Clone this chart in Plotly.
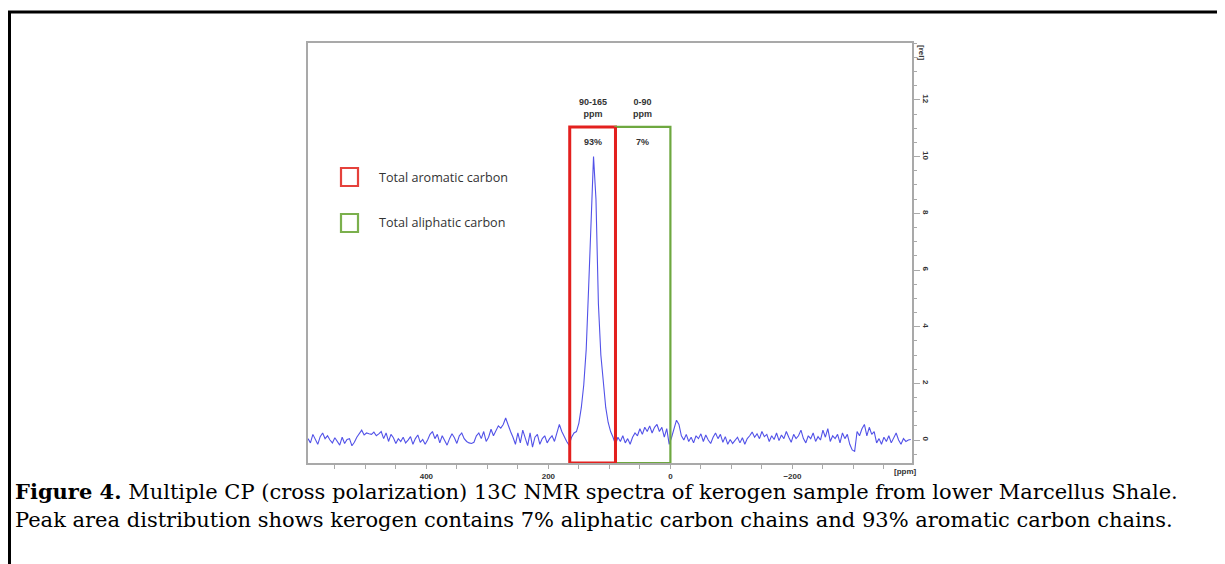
import numpy as np
import plotly.graph_objects as go

# ---------------- data ----------------
# chemical shift grid: 594 ppm down to -394 ppm, 4 ppm per sample
ppm_start = 594.0
ppm_step = -4.0

# intensity [rel], ppm 594 -> 158
baseline_left = [
    0.05, -0.10, 0.20, 0.02, -0.15, 0.12, 0.25, 0.05, 0.15, 0.00,
    -0.10, 0.08, -0.05, -0.18, 0.10, -0.12, 0.02, 0.05, -0.20, -0.08,
    0.10, 0.22, 0.35, 0.18, 0.25, 0.22, 0.20, 0.28, 0.15, 0.22,
    0.30, 0.05, 0.25, -0.05, 0.20, 0.08, -0.12, 0.05, -0.05, 0.10,
    -0.10, 0.00, 0.12, -0.15, 0.05, 0.18, -0.08, 0.02, -0.15, 0.00,
    0.20, 0.30, 0.05, 0.20, -0.10, 0.15, 0.00, -0.18, 0.05, 0.22,
    0.08, -0.12, 0.15, 0.25, 0.05, -0.05, -0.10, -0.12, -0.08, 0.15,
    0.25, 0.05, 0.30, -0.05, 0.10, 0.38, 0.15, 0.35, 0.50, 0.42,
    0.55, 0.78, 0.50, 0.30, 0.10, -0.15, 0.25, -0.10, 0.35, 0.05,
    -0.20, 0.25, -0.25, 0.10, 0.20, -0.15, 0.05, 0.15, -0.10, 0.05,
    0.15, -0.05, 0.30, 0.55, 0.30, 0.10, -0.05, -0.18, 0.10, 0.25,
]
# ppm 154 -> 86 (aromatic peak)
aromatic_peak = [
    0.30, 0.60, 1.15, 1.95, 3.20, 5.40, 8.10, 10.00, 8.50,
    4.80, 3.00, 1.95, 1.15, 0.62, 0.30, 0.10, -0.15, 0.10,
]
# ppm 82 -> -2 (aliphatic region)
aliphatic_region = [
    -0.05, 0.15, -0.10, 0.05, -0.15, 0.10, 0.25, 0.15, 0.40, 0.20, 0.45,
    0.30, 0.50, 0.25, 0.45, 0.55, 0.30, 0.45, 0.10, 0.40, -0.15, 0.10,
]
# ppm -6 -> -394
baseline_right = [
    0.45, 0.70, 0.55, 0.15, 0.00, 0.20, -0.05, 0.10, -0.10, 0.15,
    0.05, 0.22, -0.05, 0.18, 0.00, -0.12, 0.10, 0.25, 0.05, 0.20,
    -0.08, 0.12, -0.15, 0.02, -0.12, 0.00, 0.10, -0.10, 0.08, -0.15,
    0.05, 0.15, 0.28, 0.10, 0.22, 0.05, 0.30, 0.12, 0.20, -0.05,
    0.15, 0.02, 0.25, -0.02, 0.18, 0.05, 0.30, 0.10, -0.08, 0.20,
    0.05, 0.15, 0.35, 0.05, -0.10, 0.15, 0.05, 0.25, -0.05, 0.12,
    0.00, 0.35, 0.10, 0.40, -0.05, 0.15, 0.05, 0.20, -0.10, 0.25,
    0.05, 0.20, -0.15, -0.35, -0.40, 0.30, 0.15, 0.40, 0.55, 0.15,
    0.45, 0.20, 0.30, -0.10, 0.05, -0.15, 0.10, -0.05, 0.15, -0.10,
    0.05, 0.25, 0.00, -0.15, 0.05, -0.05, 0.00, 0.02,
]

# integration regions
region_labels = ["90-165<br>ppm", "0-90<br>ppm"]
region_bounds = [(165, 90), (90, 0)]
region_percent = ["93%", "7%"]
region_top = 11.05
legend_labels = ["Total aromatic carbon", "Total aliphatic carbon"]

x_tick_vals = [400, 200, 0, -200]
y_tick_vals = [0, 2, 4, 6, 8, 10, 12]

caption_1 = ("<b>Figure 4.</b> Multiple CP (cross polarization) 13C NMR spectra "
             "of kerogen sample from lower Marcellus Shale.")
caption_2 = ("Peak area distribution shows kerogen contains 7% aliphatic carbon "
             "chains and 93% aromatic carbon chains.")

# ---------------- build ----------------
intensity = np.array(baseline_left + aromatic_peak + aliphatic_region + baseline_right)
ppm = ppm_start + ppm_step * np.arange(len(intensity))

X_RANGE = [594, -396]
Y_RANGE = [-0.81, 14.01]

# the page body has an 8px margin: figure is drawn 8px right/down
OFF = 8
FW, FH = 1225 - OFF, 564 - OFF
# plot-area box in screen pixels
SL, SR, ST, SB = 308, 912, 43, 463
L, R, T, B = SL - OFF, SR - OFF, ST - OFF, SB - OFF
W, H = R - L, B - T
def pxx(px):   # screen px -> paper x
    return (px - OFF - L) / W
def pxy(py):   # screen py -> paper y
    return (B - (py - OFF)) / H

RED = "#e3201e"
GREEN = "#6ea840"
LINE = "#5252e8"
AXC = "#a9a9a9"

fig = go.Figure()
fig.add_trace(go.Scatter(x=ppm, y=intensity, mode="lines",
                         line=dict(color=LINE, width=1.1),
                         showlegend=False, hoverinfo="x+y"))

shapes = []
colors = [RED, GREEN]
widths = [3, 2.2]
for (hi, lo), c, w in zip(region_bounds, colors, widths):
    shapes.append(dict(type="rect", xref="x", yref="y", x0=hi, x1=lo,
                       y0=Y_RANGE[0], y1=region_top,
                       line=dict(color=c, width=w), fillcolor="rgba(0,0,0,0)"))
# red right edge drawn on top (it overlaps the green left edge)
shapes.append(dict(type="line", xref="x", yref="y", x0=90, x1=90,
                   y0=Y_RANGE[0], y1=region_top, line=dict(color=RED, width=3)))

# legend squares
leg_sq = [(168, 186), (214, 232)]
leg_cols = ["#e5413b", "#7bb04d"]
for (y0, y1), c in zip(leg_sq, leg_cols):
    shapes.append(dict(type="rect", xref="paper", yref="paper",
                       x0=pxx(341), x1=pxx(358), y0=pxy(y1), y1=pxy(y0),
                       line=dict(color=c, width=2.2), fillcolor="rgba(0,0,0,0)"))

# outer black frame
shapes.append(dict(type="rect", xref="paper", yref="paper",
                   x0=pxx(9.5), x1=pxx(1223), y0=pxy(580), y1=pxy(12),
                   line=dict(color="black", width=3), fillcolor="rgba(0,0,0,0)"))

ann = []
small = dict(family="Liberation Sans, Arial", size=9, color="#333333", weight="bold")
for (hi, lo), lab, pct in zip(region_bounds, region_labels, region_percent):
    xc = (hi + lo) / 2.0
    ann.append(dict(x=xc, y=11.72, xref="x", yref="y", text=lab, showarrow=False,
                    font=small, xanchor="center", yanchor="middle"))
    ann.append(dict(x=xc, y=10.52, xref="x", yref="y", text=pct, showarrow=False,
                    font=small, xanchor="center", yanchor="middle"))

for lab, py in zip(legend_labels, [177, 222]):
    ann.append(dict(x=pxx(377), y=pxy(py), xref="paper", yref="paper", text=lab,
                    showarrow=False, xanchor="left", yanchor="middle",
                    font=dict(family="Open Sans, Lato", size=12.6, color="#333333")))

tickf = dict(family="Liberation Sans, Arial", size=8, color="#333333", weight="bold")
ann.append(dict(x=pxx(905), y=pxy(472), xref="paper", yref="paper", text="[ppm]",
                showarrow=False, xanchor="center", yanchor="middle", font=tickf))
ann.append(dict(x=pxx(922), y=pxy(52), xref="paper", yref="paper", text="[rel]",
                showarrow=False, xanchor="center", yanchor="middle", font=tickf,
                textangle=90))

capf = dict(family="DejaVu Serif", size=21, color="black")
ann.append(dict(x=pxx(13), y=pxy(491), xref="paper", yref="paper", text=caption_1,
                showarrow=False, xanchor="left", yanchor="middle", font=capf))
ann.append(dict(x=pxx(13), y=pxy(520), xref="paper", yref="paper", text=caption_2,
                showarrow=False, xanchor="left", yanchor="middle", font=capf))

fig.update_layout(
    width=FW, height=FH,
    margin=dict(l=L, r=FW - R, t=T, b=FH - B, pad=0),
    paper_bgcolor="white", plot_bgcolor="white",
    shapes=shapes, annotations=ann, showlegend=False,
    xaxis=dict(range=X_RANGE, showgrid=False, zeroline=False,
               showline=True, mirror=True, linecolor=AXC, linewidth=2,
               tickmode="array", tickvals=x_tick_vals,
               ticks="outside", ticklen=4, tickcolor=AXC, tickwidth=1,
               tickfont=tickf,
               minor=dict(dtick=50, tick0=0, ticks="outside", ticklen=4,
                          tickcolor=AXC, tickwidth=1)),
    yaxis=dict(range=Y_RANGE, side="right", showgrid=False, zeroline=False,
               showline=True, mirror=True, linecolor=AXC, linewidth=2,
               tickmode="array", tickvals=y_tick_vals, tickangle=90,
               ticks="outside", ticklen=6, tickcolor=AXC, tickwidth=1,
               tickfont=tickf,
               minor=dict(dtick=0.5, tick0=0, ticks="outside", ticklen=3,
                          tickcolor=AXC, tickwidth=1)),
)

fig.write_html("out.html")
